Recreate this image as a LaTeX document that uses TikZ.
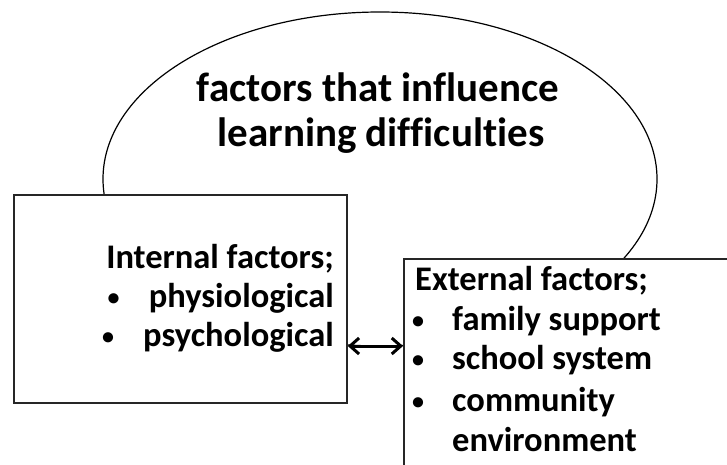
\documentclass[tikz,border=0pt]{standalone}
\usepackage{fontspec}
\setmainfont[Ligatures={NoCommon,NoRequired}]{Carlito}
\usetikzlibrary{shapes.geometric,arrows.meta}

\tikzset{
  oval/.style={ellipse, draw, line width=1.2pt, minimum width=554pt, minimum height=334pt, inner sep=0pt},
  panel/.style={rectangle, draw=black!85, line width=1.8pt, fill=white, inner sep=0pt},
  titletext/.style={inner sep=0pt, font=\fontsize{41}{46}\selectfont\bfseries},
  bodytext/.style={inner sep=0pt, font=\fontsize{34.5}{40}\selectfont\bfseries},
  dot/.style={inner sep=0pt, font=\fontsize{24}{28}\selectfont\bfseries},
  barb/.tip={Straight Barb[length=9pt,width=16pt]},
  link/.style={line width=3pt, barb-barb}
}

\begin{document}
\begin{tikzpicture}[x=1pt,y=-1pt]
\useasboundingbox (0,0) rectangle (727,464);
\clip (0,0) rectangle (727,464);

% outer oval holding the heading
\node[oval] (oval) at (380,179) {};
\node[titletext, anchor=base] (title1) at (378,101) {factors that influence};
\node[titletext, anchor=base] (title2) at (381,146) {learning difficulties};

% the two factor panels
\node[panel, minimum width=333pt, minimum height=208pt, anchor=north west] (internal) at (13,194) {};
\node[panel, minimum width=400pt, minimum height=260pt, anchor=north west] (external) at (403,258) {};

% internal factors, right aligned
\node[bodytext, anchor=base east] (int0) at (334,268) {Internal factors;};
\node[bodytext, anchor=base east] (int1) at (334,307) {physiological};
\node[bodytext, anchor=base east] (int2) at (334,346) {psychological};
\node[dot, anchor=base] (intb1) at ([xshift=-35pt,yshift=2pt]int1.base west) {•};
\node[dot, anchor=base] (intb2) at ([xshift=-35pt,yshift=2pt]int2.base west) {•};

% external factors, left aligned
\node[bodytext, anchor=base west] (ext0) at (415,290) {External factors;};
\node[bodytext, anchor=base west] (ext1) at (452,330) {family support};
\node[bodytext, anchor=base west] (ext2) at (452,369) {school system};
\node[bodytext, anchor=base west] (ext3) at (452,411) {community};
\node[bodytext, anchor=base west] (ext4) at (452,451) {environment};
\node[dot, anchor=base] (extb1) at (418,328) {•};
\node[dot, anchor=base] (extb2) at (418,367) {•};
\node[dot, anchor=base] (extb3) at (418,409) {•};

% two-way link between the panels
\coordinate (linky) at (0,346);
\draw[link] (internal.east |- linky) -- (external.west |- linky);
\end{tikzpicture}
\end{document}
